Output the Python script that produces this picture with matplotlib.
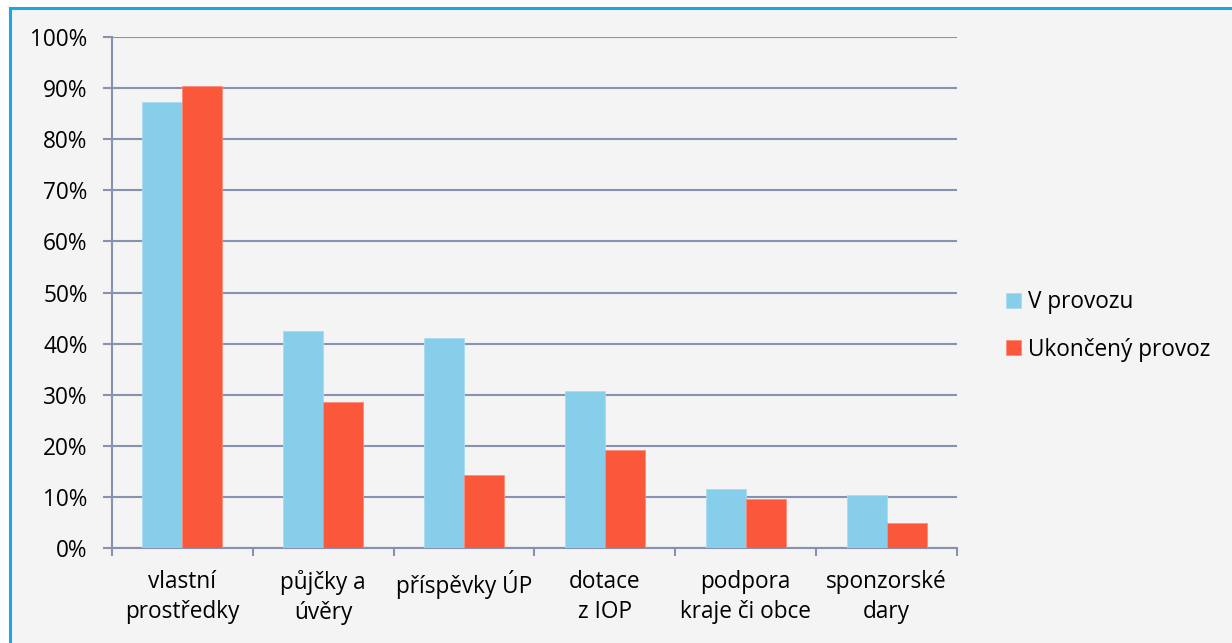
import numpy as np
import matplotlib.pyplot as plt
from matplotlib.patches import Rectangle
from matplotlib.lines import Line2D

# data
categories = ['vlastní\nprostředky', 'půjčky a\núvěry', 'příspěvky ÚP',
              'dotace\nz IOP', 'podpora\nkraje či obce', 'sponzorské\ndary']
v_provozu = [87.3, 42.4, 41.1, 30.8, 11.6, 10.3]
ukonceny = [90.5, 28.6, 14.3, 19.1, 9.6, 4.8]
series_names = ['V provozu', 'Ukončený provoz']

plt.rcParams['font.family'] = ['Open Sans', 'DejaVu Sans']

grid_col = '#8792b0'
blue = '#87CEEB'
red = '#FA573B'
fs = 16.3

fig = plt.figure(figsize=(12.32, 6.43), dpi=100, facecolor='white')

# chart area background and cyan frame (top and left only)
x0 = 10 / 1232
y1 = 1 - 7.5 / 643
fig.patches.append(Rectangle((x0, 0), 1 - x0, y1, transform=fig.transFigure,
                             facecolor='#f4f4f4', edgecolor='none', zorder=-10))
fig.lines.append(Line2D([x0, 1], [y1, y1], transform=fig.transFigure, color='#1aa7e4', lw=2.2))
fig.lines.append(Line2D([x0, x0], [0, y1], transform=fig.transFigure, color='#1aa7e4', lw=2.2))

ax = fig.add_axes([112 / 1232, 1 - 548 / 643, (957 - 112) / 1232, (548 - 37) / 643])
ax.set_facecolor('none')

x = np.arange(len(categories))
w = 0.284
ax.bar(x - w / 2, v_provozu, width=w, color=blue, edgecolor='#a8dcf2', linewidth=0.6,
       label=series_names[0], zorder=3)
ax.bar(x + w / 2, ukonceny, width=w, color=red, edgecolor='#fb8c7a', linewidth=0.6,
       label=series_names[1], zorder=3)

ax.set_xlim(-0.5, len(categories) - 0.5)
ax.set_ylim(0, 100)
ax.set_yticks(np.arange(0, 101, 10))
ax.set_yticklabels([f'{v}%' for v in range(0, 101, 10)])
ax.yaxis.grid(True, color=grid_col, linewidth=1.5, zorder=0)

ax.set_xticks(np.arange(-0.5, len(categories), 1))
ax.set_xticklabels([])
ax.set_xticks(x, minor=True)
ax.set_xticklabels(categories, minor=True, fontsize=fs, linespacing=1.3)
ax.tick_params(axis='x', which='minor', length=0, pad=16)
ax.tick_params(axis='x', which='major', length=6, width=1.5, color=grid_col, direction='out')
ax.tick_params(axis='y', length=6.5, width=1.5, color=grid_col, labelsize=fs, pad=11)

for s in ['top', 'right']:
    ax.spines[s].set_visible(False)
for s in ['left', 'bottom']:
    ax.spines[s].set_color(grid_col)
    ax.spines[s].set_linewidth(1.5)

ax.legend(loc='center left', bbox_to_anchor=(990 / 1232, 1 - 326 / 643),
          bbox_transform=fig.transFigure, frameon=False, fontsize=fs,
          handlelength=0.65, handleheight=0.65, handletextpad=0.35, labelspacing=1.05,
          borderpad=0.2)

plt.savefig('out.png', dpi=100, facecolor=fig.get_facecolor())
